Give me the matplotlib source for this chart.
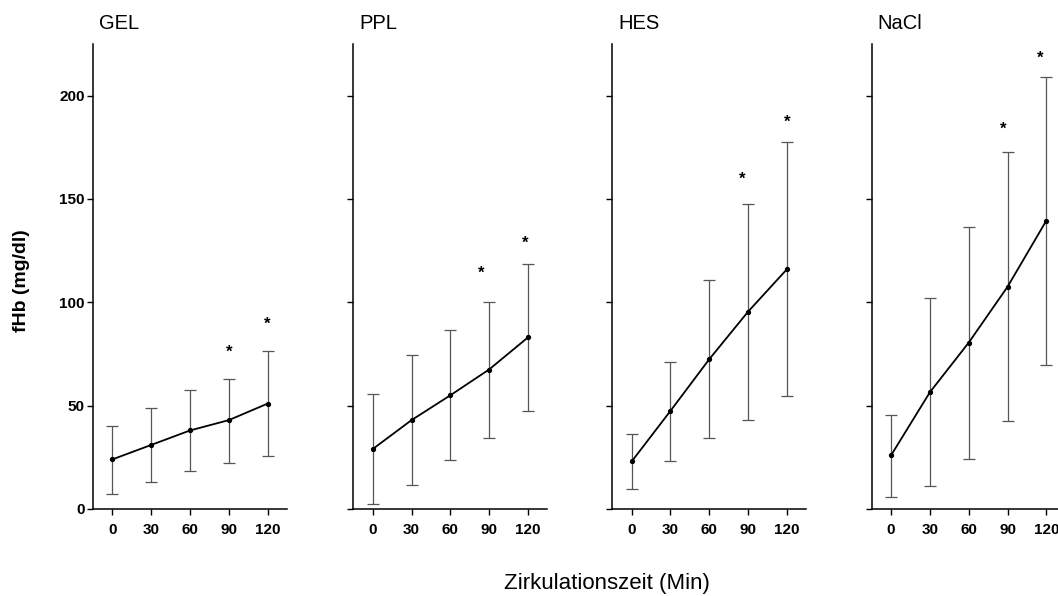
import matplotlib
matplotlib.use('Agg')
import matplotlib.pyplot as plt

plt.rcParams['font.family'] = ['Liberation Sans', 'DejaVu Sans']

# Zirkulationszeit in Minuten
times = [0, 30, 60, 90, 120]
groups = ['GEL', 'PPL', 'HES', 'NaCl']

# fHb mean with upper / lower end of the error bar (mg/dl)
gel_mean = [24, 31, 38, 43, 51]
gel_upper = [40, 49, 57.5, 63, 76.5]
gel_lower = [7.5, 13, 18.5, 22.5, 25.5]

ppl_mean = [29, 43, 55, 67.5, 83]
ppl_upper = [55.5, 74.5, 86.5, 100, 118.5]
ppl_lower = [2.5, 11.5, 23.5, 34.5, 47.5]

hes_mean = [23, 47.5, 72.5, 95.5, 116]
hes_upper = [36.5, 71, 111, 147.5, 177.5]
hes_lower = [9.5, 23, 34.5, 43, 54.5]

nacl_mean = [26, 56.5, 80.5, 107.5, 139.5]
nacl_upper = [45.5, 102, 136.5, 172.5, 209]
nacl_lower = [6, 11, 24, 42.5, 69.5]

# significance stars (x in minutes, y in mg/dl)
gel_star_x = [90, 120]
gel_star_y = [78.5, 92]
ppl_star_x = [84, 118]
ppl_star_y = [116.5, 131]
hes_star_x = [85.5, 120]
hes_star_y = [162, 189.5]
nacl_star_x = [86.5, 115.5]
nacl_star_y = [186, 220.5]

y_ticks = [0, 50, 100, 150, 200]

means = [gel_mean, ppl_mean, hes_mean, nacl_mean]
uppers = [gel_upper, ppl_upper, hes_upper, nacl_upper]
lowers = [gel_lower, ppl_lower, hes_lower, nacl_lower]
stars = [(gel_star_x, gel_star_y), (ppl_star_x, ppl_star_y),
         (hes_star_x, hes_star_y), (nacl_star_x, nacl_star_y)]

W, H = 1058, 596
fig = plt.figure(figsize=(W / 100, H / 100), dpi=100)

lefts_px = [93, 353.3, 612.3, 871.7]
ax_w = 194 / W
ax_b = 1 - 509 / H
ax_h = (509 - 44) / H

for i, name in enumerate(groups):
    ax = fig.add_axes([lefts_px[i] / W, ax_b, ax_w, ax_h])
    m = means[i]
    err_lo = [mm - lo for mm, lo in zip(m, lowers[i])]
    err_hi = [up - mm for mm, up in zip(m, uppers[i])]
    ax.errorbar(times, m, yerr=[err_lo, err_hi], fmt='none', ecolor='#555555',
                elinewidth=0.9, capsize=4.3, capthick=0.9, zorder=2)
    ax.plot(times, m, color='black', lw=1.3, marker='o', markersize=2.8, zorder=3)

    sx, sy = stars[i]
    for x, y in zip(sx, sy):
        ax.annotate('*', xy=(x, y), xytext=(0, -5), textcoords='offset pixels',
                    ha='center', va='center', fontsize=12, fontweight='bold')

    ax.set_xlim(-15, 135)
    ax.set_ylim(0, 225)
    ax.set_xticks(times)
    ax.set_yticks(y_ticks)
    if i > 0:
        ax.set_yticklabels([])
    ax.spines['top'].set_visible(False)
    ax.spines['right'].set_visible(False)
    for s in ['left', 'bottom']:
        ax.spines[s].set_linewidth(1.1)
    ax.tick_params(axis='both', direction='out', length=4, width=1.0,
                   labelsize=11, pad=2)
    ax.tick_params(axis='x', pad=6)
    for lab in ax.get_xticklabels() + ax.get_yticklabels():
        lab.set_fontweight('bold')

    ax.annotate(name, xy=(0, 1), xycoords='axes fraction', xytext=(6, 15),
                textcoords='offset pixels', ha='left', va='baseline', fontsize=14.5)

fig.text(22 / W, 1 - 281 / H, 'fHb (mg/dl)', rotation=90, ha='center', va='center',
         fontsize=14, fontweight='bold')
fig.text(607 / W, 1 - 584 / H, 'Zirkulationszeit (Min)', ha='center', va='center',
         fontsize=16)

fig.savefig('out.png', dpi=100)
